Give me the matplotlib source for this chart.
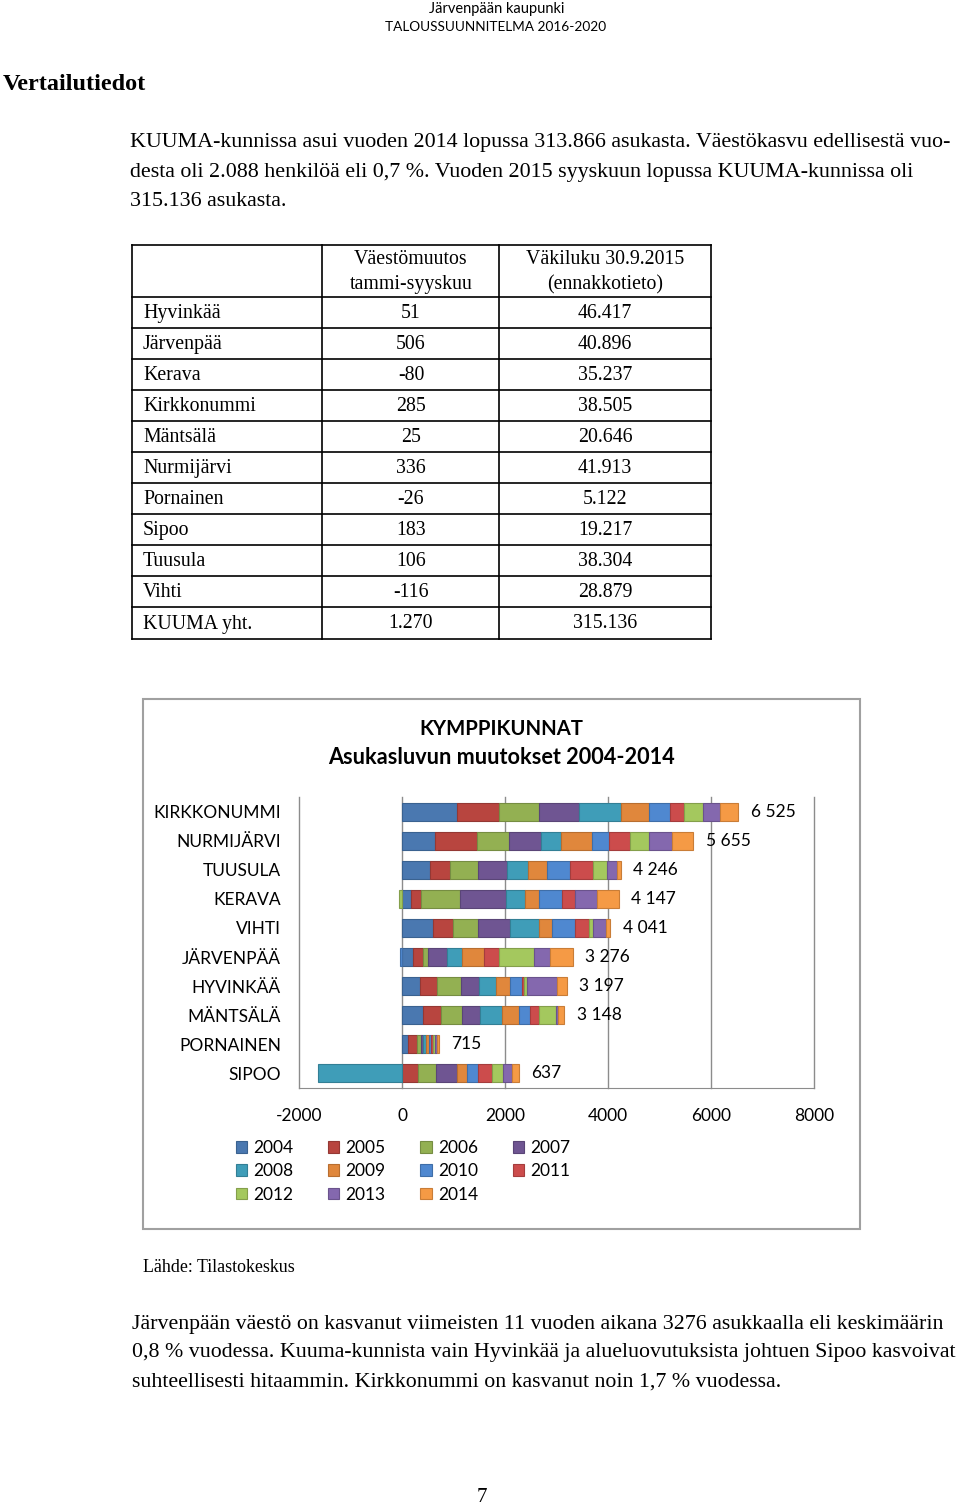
import numpy as np
import matplotlib.pyplot as plt
from matplotlib.patches import Rectangle

plt.rcParams['axes.unicode_minus'] = False

W, H = 960, 1507
SERIF = 'Liberation Serif'
SANS = 'Lato'

# Table data
kunnat = ['Hyvinkää', 'Järvenpää', 'Kerava', 'Kirkkonummi', 'Mäntsälä', 'Nurmijärvi',
          'Pornainen', 'Sipoo', 'Tuusula', 'Vihti', 'KUUMA yht.']
muutos = ['51', '506', '-80', '285', '25', '336', '-26', '183', '106', '-116', '1.270']
vakiluku = ['46.417', '40.896', '35.237', '38.505', '20.646', '41.913', '5.122',
            '19.217', '38.304', '28.879', '315.136']

# Chart data
kunnat_kuva = ['KIRKKONUMMI', 'NURMIJÄRVI', 'TUUSULA', 'KERAVA', 'VIHTI',
               'JÄRVENPÄÄ', 'HYVINKÄÄ', 'MÄNTSÄLÄ', 'PORNAINEN', 'SIPOO']
vuodet = ['2004', '2005', '2006', '2007', '2008', '2009', '2010', '2011', '2012', '2013', '2014']
kirkkonummi = [1060, 815, 790, 765, 825, 535, 420, 270, 360, 335, 350]
nurmijarvi = [645, 819, 613, 626, 387, 600, 323, 406, 368, 464, 404]
tuusula = [550, 390, 542, 550, 406, 368, 452, 452, 278, 194, 64]
kerava = [174, 194, 761, 884, 368, 277, 452, 258, -65, 419, 425]
vihti = [602, 387, 484, 626, 568, 239, 452, 264, 90, 245, 84]
jarvenpaa = [206, 194, 110, 361, 303, 419, -39, 290, 677, 316, 439]
hyvinkaa = [348, 329, 464, 355, 323, 277, 226, 45, 52, 584, 194]
mantsala = [413, 335, 419, 342, 432, 323, 226, 161, 335, 52, 110]
pornainen = [120, 180, 75, 35, 60, 45, 55, 35, 40, 35, 35]
sipoo = [0, 316, 342, 406, -1633, 194, 219, 277, 206, 181, 129]
muutokset = np.array([kirkkonummi, nurmijarvi, tuusula, kerava, vihti,
                      jarvenpaa, hyvinkaa, mantsala, pornainen, sipoo])
varit = ['#4a78b0', '#b8453f', '#93b052', '#6f5592', '#3f9db8', '#e0873c',
         '#4f88d0', '#cc4c4c', '#a4c85e', '#8468ae', '#f59a45']
reunat = ['#3a6290', '#943834', '#768d42', '#5a4577', '#337f95', '#b86e30',
          '#3f6ea8', '#a53d3d', '#849f4b', '#6a538c', '#c97d37']

fig = plt.figure(figsize=(W / 100, H / 100), dpi=100)
bg = fig.add_axes([0, 0, 1, 1])
bg.set_xlim(0, W)
bg.set_ylim(H, 0)
bg.axis('off')

# Page header and text
bg.text(497, 9, 'Järvenpään kaupunki', family=SANS, fontsize=10.5, ha='center', va='center')
bg.text(496, 27, 'TALOUSSUUNNITELMA 2016-2020', family=SANS, fontsize=9.8, ha='center', va='center')
bg.text(3, 84, 'Vertailutiedot', family=SERIF, fontsize=17.5, weight='bold', va='center')

kappale1 = ['KUUMA-kunnissa asui vuoden 2014 lopussa 313.866 asukasta. Väestökasvu edellisestä vuo-',
            'desta oli 2.088 henkilöä eli 0,7 %. Vuoden 2015 syyskuun lopussa KUUMA-kunnissa oli',
            '315.136 asukasta.']
for i, rivi in enumerate(kappale1):
    bg.text(130, 143 + 29 * i, rivi, family=SERIF, fontsize=15.8, va='center')

# Table
sarakkeet = [132, 322, 499, 711]
rivit = [245, 297] + [297 + 31 * (i + 1) for i in range(11)]
rivit[-1] = 639
for x in sarakkeet:
    bg.plot([x, x], [rivit[0], rivit[-1]], color='black', lw=1.2)
for y in rivit:
    bg.plot([sarakkeet[0], sarakkeet[-1]], [y, y], color='black', lw=1.2)
TS = 14.3
bg.text(411, 259, 'Väestömuutos', family=SERIF, fontsize=TS, ha='center', va='center')
bg.text(411, 285, 'tammi-syyskuu', family=SERIF, fontsize=TS, ha='center', va='center')
bg.text(605, 259, 'Väkiluku 30.9.2015', family=SERIF, fontsize=TS, ha='center', va='center')
bg.text(605, 285, '(ennakkotieto)', family=SERIF, fontsize=TS, ha='center', va='center')
for i in range(len(kunnat)):
    yc = (rivit[i + 1] + rivit[i + 2]) / 2 + 1
    bg.text(143, yc, kunnat[i], family=SERIF, fontsize=TS, va='center')
    bg.text(411, yc, muutos[i], family=SERIF, fontsize=TS, ha='center', va='center')
    bg.text(605, yc, vakiluku[i], family=SERIF, fontsize=TS, ha='center', va='center')

# Chart frame and title
bg.add_patch(Rectangle((143, 699), 717, 530, fill=False, edgecolor='#a0a0a0', lw=1.5))
bg.text(501, 729, 'KYMPPIKUNNAT', family=SANS, fontsize=14.6, weight='bold', ha='center', va='center')
bg.text(501, 758, 'Asukasluvun muutokset 2004-2014', family=SANS, fontsize=15.6, weight='bold',
        ha='center', va='center')

bg.text(143, 1268, 'Lähde: Tilastokeskus', family=SERIF, fontsize=12.9, va='center')
kappale2 = ['Järvenpään väestö on kasvanut viimeisten 11 vuoden aikana 3276 asukkaalla eli keskimäärin',
            '0,8 % vuodessa. Kuuma-kunnista vain Hyvinkää ja alueluovutuksista johtuen Sipoo kasvoivat',
            'suhteellisesti hitaammin. Kirkkonummi on kasvanut noin 1,7 % vuodessa.']
for i, rivi in enumerate(kappale2):
    bg.text(132, 1324 + 29 * i, rivi, family=SERIF, fontsize=15.75, va='center')
bg.text(482, 1497, '7', family=SERIF, fontsize=15, ha='center', va='center')

# Stacked bar chart
ax = fig.add_axes([299 / W, 1 - 1088 / H, (814 - 299) / W, (1088 - 797) / H])
y = np.arange(len(kunnat_kuva))
pos = np.zeros(len(y))
neg = np.zeros(len(y))
for j, vuosi in enumerate(vuodet):
    arvot = muutokset[:, j]
    alku = np.where(arvot >= 0, pos, neg)
    ax.barh(y, arvot, left=alku, height=0.62, color=varit[j], edgecolor=reunat[j],
            linewidth=0.8, label=vuosi, zorder=2)
    pos += np.clip(arvot, 0, None)
    neg += np.clip(arvot, None, 0)

summat = muutokset.sum(axis=1)
for i, s in enumerate(summat):
    ax.annotate(f'{s:,}'.replace(',', ' '), (pos[i], i), xytext=(9, 0), textcoords='offset points',
                family=SANS, fontsize=12.5, va='center', ha='left')

xt = [-2000, 0, 2000, 4000, 6000, 8000]
ax.set_xlim(-2000, 8000)
ax.set_ylim(len(y) - 0.5, -0.5)
ax.set_xticks(xt)
ax.set_yticks(y)
ax.set_yticklabels(kunnat_kuva)
for x in xt:
    ax.axvline(x, color='#8c8c8c', lw=1, zorder=0, clip_on=False)
for side in ['top', 'right', 'left']:
    ax.spines[side].set_visible(False)
ax.spines['bottom'].set_color('#8c8c8c')
ax.tick_params(axis='y', length=0, pad=13, labelsize=12.5)
ax.tick_params(axis='x', length=0, pad=14.5, labelsize=12.5)
for t in ax.get_xticklabels() + ax.get_yticklabels():
    t.set_family(SANS)

h, l = ax.get_legend_handles_labels()
jarjestys = [0, 4, 8, 1, 5, 9, 2, 6, 10, 3, 7]
fig.legend([h[k] for k in jarjestys], [l[k] for k in jarjestys], ncol=4,
           loc='upper left', bbox_to_anchor=(236 / W, 1 - 1140 / H), frameon=False,
           prop={'family': SANS, 'size': 12.5}, handlelength=0.65, handleheight=0.65,
           handletextpad=0.35, columnspacing=2.0, labelspacing=0.42, borderpad=0, borderaxespad=0)

fig.savefig('out.png', dpi=100, facecolor='white')
